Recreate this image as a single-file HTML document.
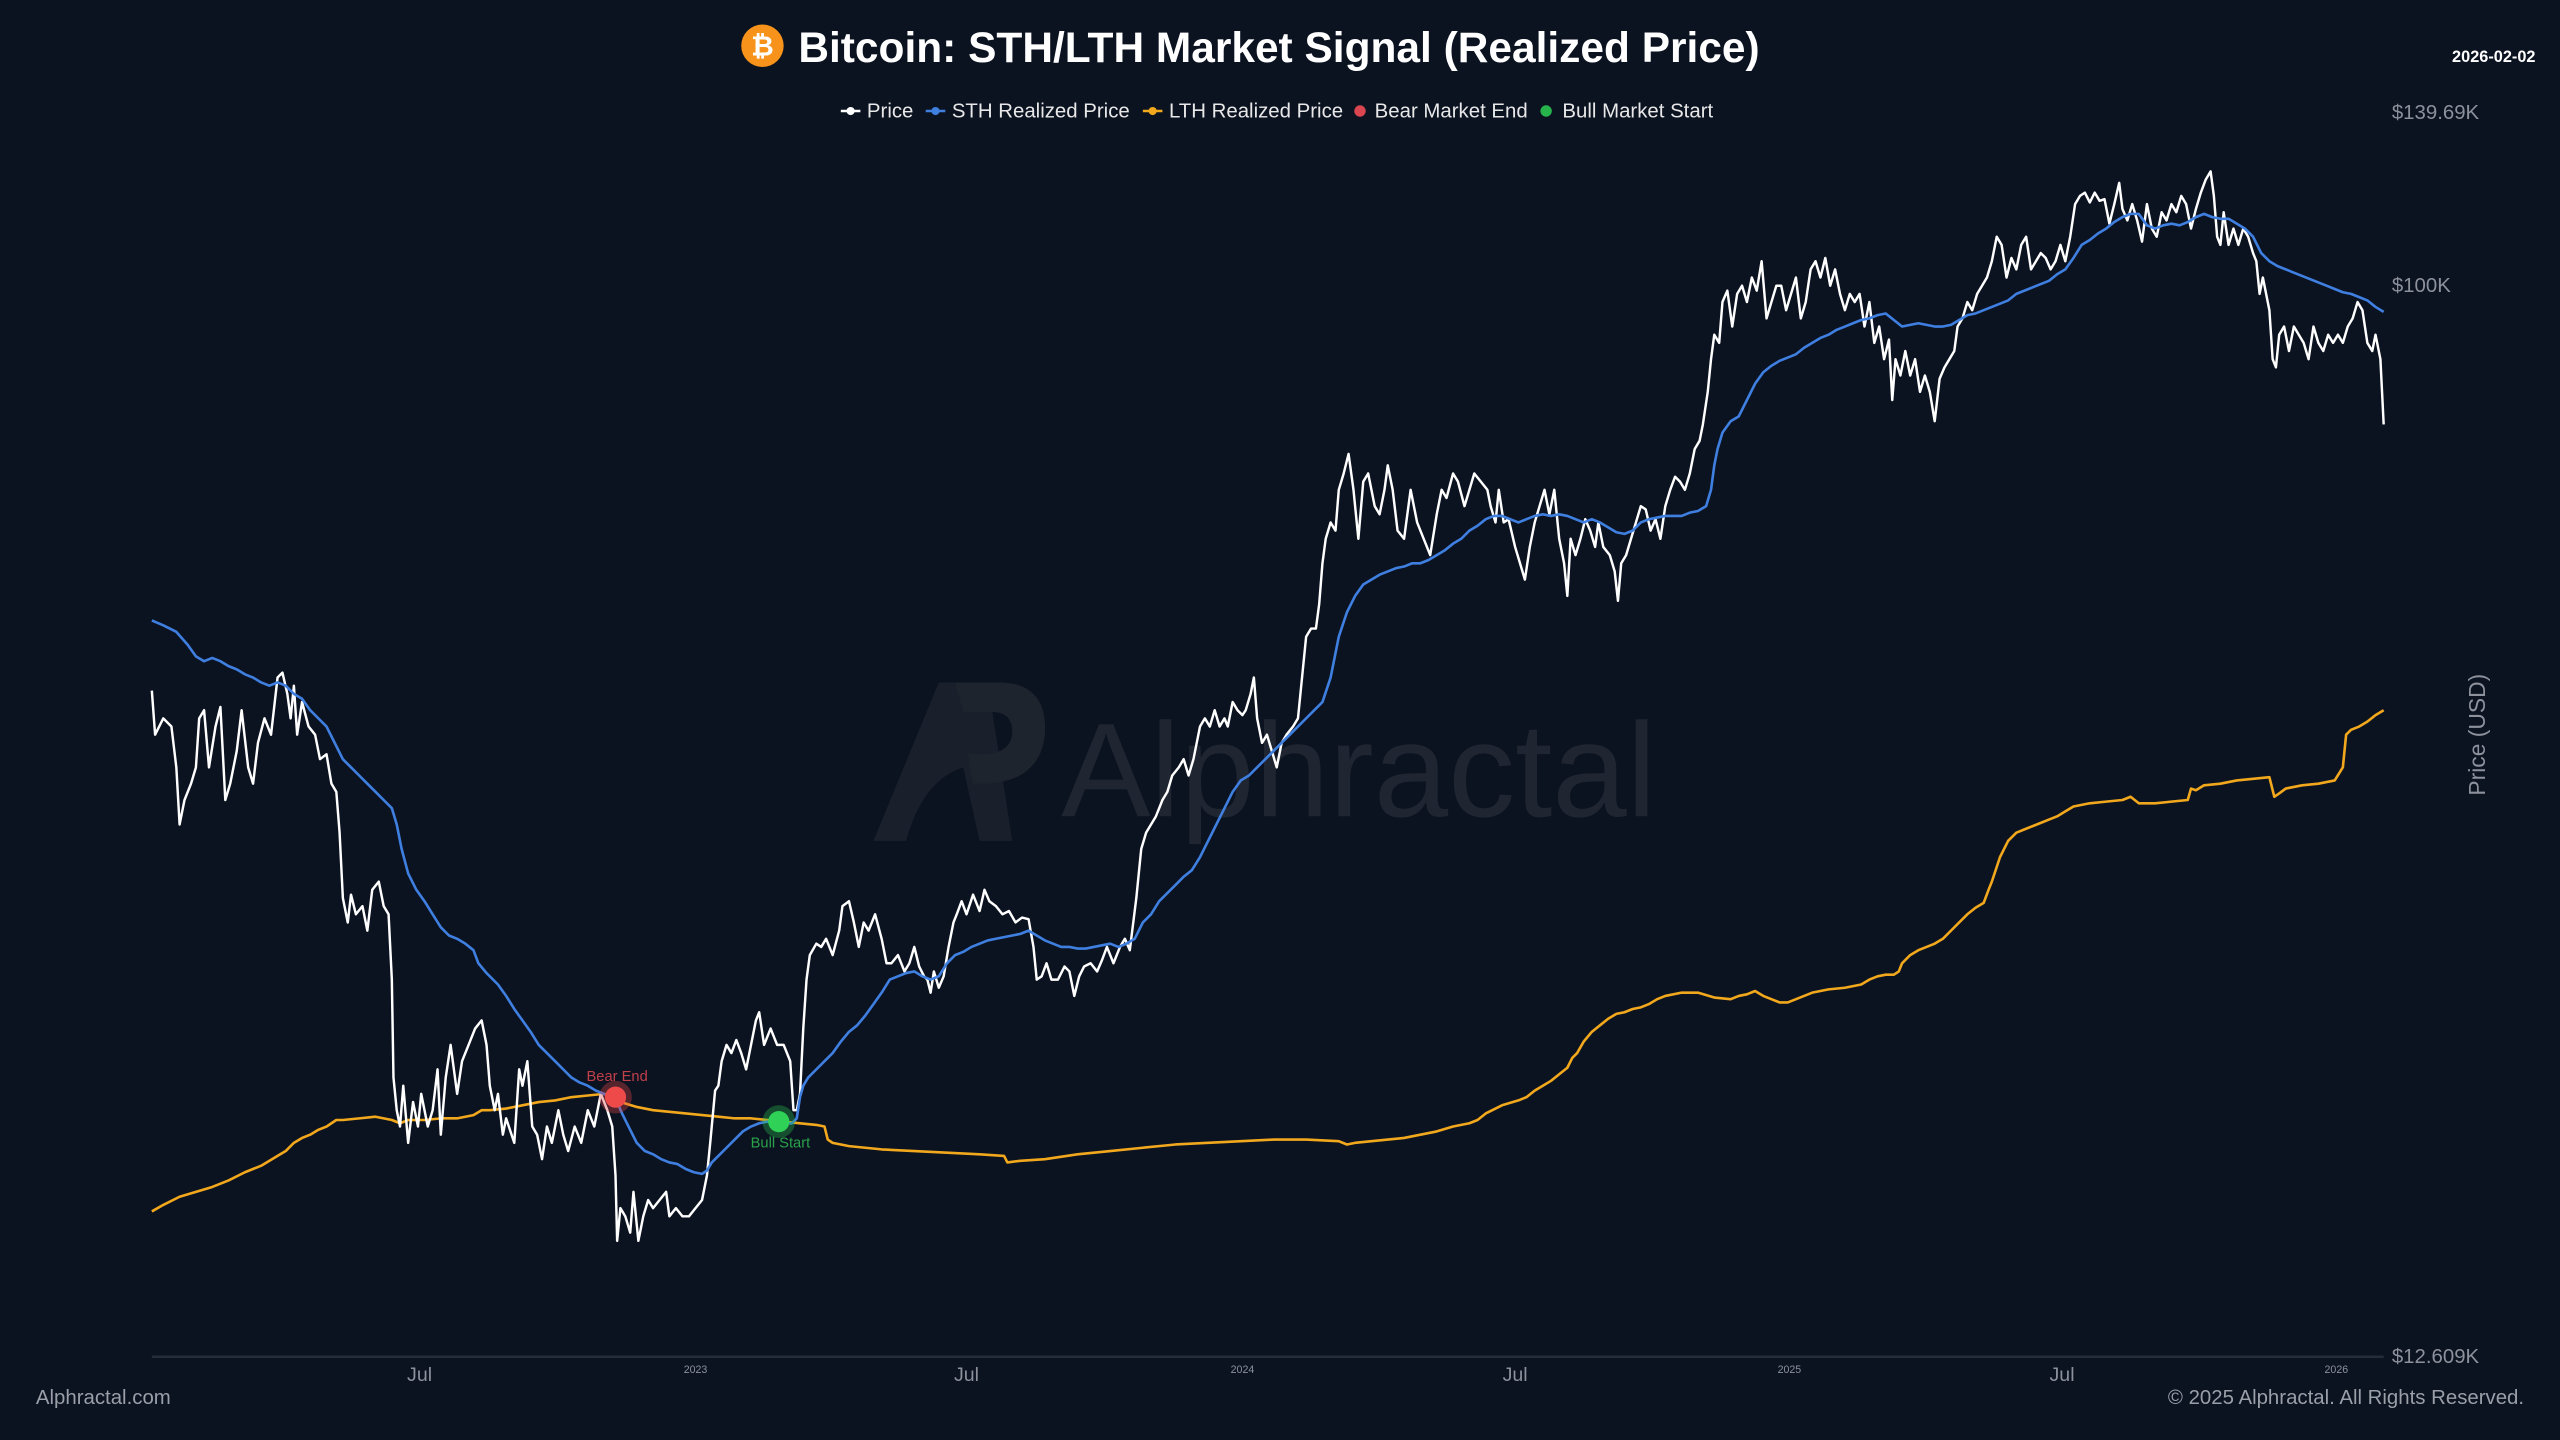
<!DOCTYPE html>
<html><head><meta charset="utf-8"><style>
html,body{margin:0;padding:0;background:#0b1220;}
svg{display:block;}
text{font-family:"Liberation Sans",sans-serif;}
</style></head><body>
<svg width="2560" height="1440" viewBox="0 0 1568 882" xmlns="http://www.w3.org/2000/svg">
<rect width="1568" height="882" fill="#0b1220"/>
<!-- watermark -->
<g opacity="0.9">
<path d="M535,515 L575,418 L605,418 L620,515 L600,515 L590,470 Q565,478 555,515 Z" fill="#1c222d"/>
<path d="M585,418 L615,418 Q642,420 640,450 Q637,478 605,480 L596,480 L593,462 L605,462 Q620,460 620,448 Q620,436 607,436 L590,436 Z" fill="#20262f"/>
<text x="650" y="500" font-size="82" fill="#222833">Alphractal</text>
</g>
<!-- title -->
<circle cx="467" cy="28" r="13" fill="#f7931a"/>
<text x="467" y="34" font-size="17" font-weight="bold" fill="#fff" text-anchor="middle">₿</text>
<text x="489" y="38" font-size="26" font-weight="bold" fill="#fff">Bitcoin: STH/LTH Market Signal (Realized Price)</text>
<text x="1553" y="38" font-size="10" font-weight="bold" fill="#fff" text-anchor="end">2026-02-02</text>
<!-- legend -->
<g font-size="12.5" fill="#e8e8e8">
<line x1="515" y1="68" x2="527" y2="68" stroke="#fff" stroke-width="1.5"/><circle cx="521" cy="68" r="2.5" fill="#fff"/>
<text x="531" y="72">Price</text>
<line x1="567" y1="68" x2="579" y2="68" stroke="#3f7fe0" stroke-width="1.5"/><circle cx="573" cy="68" r="2.5" fill="#3f7fe0"/>
<text x="583" y="72">STH Realized Price</text>
<line x1="700" y1="68" x2="712" y2="68" stroke="#f2a81d" stroke-width="1.5"/><circle cx="706" cy="68" r="2.5" fill="#f2a81d"/>
<text x="716" y="72">LTH Realized Price</text>
<circle cx="833" cy="68" r="3.5" fill="#d9464f"/>
<text x="842" y="72">Bear Market End</text>
<circle cx="947" cy="68" r="3.5" fill="#27b34b"/>
<text x="957" y="72">Bull Market Start</text>
</g>
<!-- y axis labels -->
<g font-size="12.5" fill="#8c919b">
<text x="1465" y="73">$139.69K</text>
<text x="1465" y="179">$100K</text>
<text x="1465" y="835">$12.609K</text>
<text transform="translate(1522,450) rotate(-90)" text-anchor="middle" font-size="14">Price (USD)</text>
</g>
<!-- x axis -->
<line x1="93" y1="831" x2="1460" y2="831" stroke="#262c38" stroke-width="1.5"/>
<g fill="#8c919b" text-anchor="middle">
<text x="257" y="846" font-size="12">Jul</text>
<text x="426" y="841" font-size="6.5">2023</text>
<text x="592" y="846" font-size="12">Jul</text>
<text x="761" y="841" font-size="6.5">2024</text>
<text x="928" y="846" font-size="12">Jul</text>
<text x="1096" y="841" font-size="6.5">2025</text>
<text x="1263" y="846" font-size="12">Jul</text>
<text x="1431" y="841" font-size="6.5">2026</text>
</g>
<text x="22" y="860" font-size="12.5" fill="#9a9fa8">Alphractal.com</text>
<text x="1546" y="860" font-size="12.5" fill="#9a9fa8" text-anchor="end">© 2025 Alphractal. All Rights Reserved.</text>
<!-- LTH -->
<polyline fill="none" stroke="#f2a81d" stroke-width="1.6" stroke-linejoin="round" points="93,742 100,738 110,733 120,730 130,727 140,723 150,718 160,714 170,708 175,705 180,700 185,697 190,695 195,692 200,690 203,688 206,686 210,686 220,685 230,684 240,686 245,688 250,686 260,686 270,685 280,685 290,683 295,680 300,680 310,679 320,677 330,675 340,674 350,672 360,671 370,670 375,671 380,675 390,678 400,680 410,681 420,682 430,683 440,684 450,685 460,685 470,686 480,687 490,688 500,689 505,690 507,698 510,700 520,702 540,704 560,705 580,706 600,707 615,708 617,712 625,711 640,710 660,707 680,705 700,703 720,701 740,700 760,699 780,698 800,698 820,699 825,701 830,700 840,699 850,698 860,697 870,695 880,693 890,690 900,688 905,686 910,682 920,677 930,674 935,672 940,668 945,665 950,662 955,658 960,654 963,648 966,645 970,638 975,632 980,628 985,624 990,621 995,620 1000,618 1005,617 1010,615 1015,612 1020,610 1030,608 1040,608 1050,611 1060,612 1065,610 1070,609 1075,607 1080,610 1085,612 1090,614 1095,614 1100,612 1105,610 1110,608 1120,606 1130,605 1140,603 1145,600 1150,598 1155,597 1160,597 1163,595 1165,590 1170,585 1175,582 1180,580 1185,578 1190,575 1195,570 1200,565 1205,560 1210,556 1215,553 1218,545 1220,540 1225,525 1230,515 1235,510 1240,508 1245,506 1250,504 1255,502 1260,500 1265,497 1270,494 1275,493 1280,492 1290,491 1300,490 1305,488 1310,492 1320,492 1330,491 1340,490 1342,483 1345,484 1350,481 1360,480 1370,478 1380,477 1390,476 1393,488 1396,486 1400,483 1410,481 1420,480 1430,478 1435,470 1437,450 1440,447 1445,445 1450,442 1455,438 1460,435"/>
<!-- Price -->
<polyline fill="none" stroke="#ffffff" stroke-width="1.5" stroke-linejoin="round" points="93,423 95,450 100,440 105,445 108,470 110,505 113,490 117,480 120,470 122,440 125,435 128,470 132,445 135,433 138,490 141,480 145,460 148,435 152,470 155,480 158,455 162,440 166,450 170,415 173,412 176,425 178,440 180,420 182,450 185,430 189,445 193,450 196,465 200,462 203,480 206,485 208,510 210,550 213,565 215,548 218,560 222,555 225,570 228,545 232,540 235,555 238,560 240,600 241,660 243,680 245,690 247,665 250,700 253,675 256,690 258,670 262,690 265,680 268,655 270,695 273,660 276,640 280,670 283,650 287,640 291,630 295,625 298,640 300,665 303,680 305,670 308,695 310,685 315,700 318,655 320,665 323,650 326,690 329,695 332,710 335,690 338,700 342,680 345,695 348,705 352,690 356,700 360,680 364,690 368,670 372,680 375,690 377,720 378,760 380,740 383,745 386,755 388,730 391,760 394,745 397,735 400,740 404,735 408,730 410,745 414,740 418,745 422,745 426,740 430,735 433,720 435,700 438,668 440,665 442,650 445,640 448,645 451,637 454,645 457,655 460,640 463,625 465,620 468,640 472,630 476,640 480,640 484,650 486,680 488,680 490,670 492,630 494,600 496,585 500,578 503,580 506,575 510,585 514,570 516,555 520,552 523,565 526,580 529,565 532,570 536,560 540,575 543,590 546,590 550,585 554,595 557,590 560,580 563,592 566,598 568,600 570,608 572,595 575,605 578,598 581,580 584,565 586,560 589,552 592,560 596,548 600,558 603,545 606,552 610,555 614,560 618,558 622,565 626,562 630,563 633,580 635,600 638,598 641,590 644,600 648,600 652,592 655,595 658,610 661,598 664,592 668,590 672,595 675,588 678,580 682,590 686,580 689,575 692,582 696,550 699,520 702,510 705,505 708,500 712,490 715,485 718,475 722,470 725,465 728,475 731,465 735,445 738,440 741,445 744,435 747,445 750,440 752,445 755,430 758,435 761,438 763,435 766,425 768,415 770,440 773,455 776,450 779,460 782,470 785,455 788,450 792,445 795,440 797,420 800,390 803,385 806,385 808,370 810,345 812,330 815,320 818,325 820,300 823,290 826,278 829,300 832,330 835,295 838,290 842,310 845,315 848,300 850,285 853,300 856,325 860,330 864,300 868,320 872,330 876,340 880,315 883,300 886,305 890,290 893,295 897,310 900,300 903,290 907,295 911,300 913,310 916,320 918,300 921,320 924,318 928,335 931,345 934,355 937,335 940,320 943,310 946,300 949,315 952,300 955,330 958,345 960,365 962,330 965,340 968,330 971,318 974,325 977,335 979,320 982,335 986,340 989,350 991,368 993,345 996,340 999,330 1002,320 1005,310 1008,312 1011,325 1014,318 1017,330 1020,310 1023,300 1026,292 1029,295 1032,300 1035,290 1038,275 1041,270 1043,260 1046,240 1048,220 1050,205 1053,210 1055,185 1058,178 1061,200 1064,180 1067,175 1070,185 1073,170 1076,178 1079,160 1082,195 1085,185 1088,175 1091,175 1094,190 1097,180 1100,170 1103,195 1106,185 1109,165 1112,160 1115,170 1118,158 1121,175 1124,165 1127,180 1130,190 1133,180 1136,185 1139,180 1142,200 1145,185 1148,210 1151,200 1154,220 1157,208 1159,245 1161,220 1164,230 1167,215 1170,230 1173,220 1176,240 1179,230 1182,240 1185,258 1188,232 1191,225 1194,220 1197,215 1199,200 1202,195 1205,185 1208,190 1211,180 1214,175 1217,170 1220,160 1223,145 1226,150 1229,170 1232,158 1235,165 1238,150 1241,145 1244,165 1247,160 1250,155 1253,158 1256,165 1259,160 1262,150 1265,160 1268,145 1271,125 1274,120 1277,118 1280,124 1283,118 1286,123 1289,122 1292,137 1295,125 1298,112 1300,128 1303,135 1306,125 1309,135 1312,148 1315,125 1318,140 1321,145 1324,130 1327,135 1330,125 1333,130 1336,120 1339,125 1342,140 1345,128 1348,118 1351,110 1354,105 1356,120 1358,145 1360,150 1362,130 1365,150 1368,140 1371,150 1374,140 1377,145 1380,155 1382,160 1384,180 1386,170 1388,180 1390,190 1392,220 1394,225 1396,205 1399,200 1402,215 1405,200 1408,205 1411,210 1414,220 1417,200 1420,210 1423,215 1426,205 1429,210 1432,205 1435,210 1438,200 1441,195 1444,185 1447,190 1450,210 1453,215 1455,205 1458,220 1460,260"/>
<!-- STH -->
<polyline fill="none" stroke="#3f7fe0" stroke-width="1.6" stroke-linejoin="round" points="93,380 100,383 108,387 115,395 120,402 125,405 130,403 135,405 140,408 145,410 150,413 155,415 160,418 165,420 170,418 175,420 180,425 185,428 190,435 195,440 200,445 205,455 210,465 215,470 220,475 225,480 230,485 235,490 240,495 243,505 246,520 250,535 255,545 260,552 265,560 270,568 275,573 280,575 285,578 290,582 293,590 298,596 305,603 310,610 315,618 320,625 325,632 330,640 335,645 340,650 345,655 350,660 355,663 360,665 365,668 370,670 375,673 378,675 381,682 385,690 390,700 395,705 400,707 405,710 410,712 415,713 420,716 425,718 430,719 433,717 436,712 440,708 445,703 450,698 455,693 460,690 465,688 470,687 475,687 480,688 485,688 488,685 490,672 492,665 495,660 500,655 505,650 510,645 515,638 520,632 525,628 530,622 535,615 540,608 545,600 550,598 555,596 560,595 565,598 570,600 575,598 580,590 585,585 590,583 595,580 600,578 605,576 610,575 615,574 620,573 625,572 630,570 635,573 640,576 645,578 650,580 655,580 660,581 665,581 670,580 675,579 680,578 685,580 690,578 695,575 700,565 705,560 710,552 715,547 720,542 725,537 730,533 735,525 740,515 745,505 750,495 755,485 760,478 765,475 770,470 775,465 780,460 785,455 790,450 795,445 800,440 805,435 810,430 815,415 818,400 820,390 825,375 830,365 835,358 840,355 845,352 850,350 855,348 860,347 865,345 870,345 875,343 880,340 885,337 890,333 895,330 900,325 905,322 910,318 915,316 920,316 925,318 930,320 935,318 940,316 945,315 950,316 955,315 960,316 965,318 970,320 975,318 980,320 985,323 990,326 995,327 1000,325 1005,320 1010,318 1015,317 1020,316 1025,316 1030,316 1035,314 1040,313 1045,310 1048,300 1050,285 1052,275 1055,265 1060,258 1065,255 1070,245 1075,235 1080,228 1085,224 1090,221 1095,219 1100,217 1105,213 1110,210 1115,207 1120,205 1125,202 1130,200 1135,198 1140,196 1145,195 1150,193 1155,192 1160,196 1165,200 1170,199 1175,198 1180,199 1185,200 1190,200 1195,199 1200,196 1205,193 1210,192 1215,190 1220,188 1225,186 1230,184 1235,180 1240,178 1245,176 1250,174 1255,172 1260,168 1265,165 1270,158 1275,150 1280,147 1285,143 1290,140 1295,136 1300,133 1305,131 1310,131 1315,138 1320,140 1325,138 1330,137 1335,138 1340,136 1345,133 1350,131 1355,133 1360,134 1365,134 1370,137 1375,140 1380,145 1385,155 1390,160 1395,163 1400,165 1405,167 1410,169 1415,171 1420,173 1425,175 1430,177 1435,179 1440,180 1445,182 1450,184 1455,188 1460,191"/>
<!-- markers -->
<circle cx="377" cy="672" r="10" fill="#e04848" opacity="0.35"/>
<circle cx="377" cy="672" r="6.5" fill="#ef4a4a"/>
<text x="378" y="662" font-size="9" fill="#c2404a" text-anchor="middle">Bear End</text>
<circle cx="477" cy="687" r="10" fill="#27c24d" opacity="0.35"/>
<circle cx="477" cy="687" r="6.5" fill="#2fd257"/>
<text x="478" y="703" font-size="9" fill="#2aa34a" text-anchor="middle">Bull Start</text>
</svg>
</body></html>
